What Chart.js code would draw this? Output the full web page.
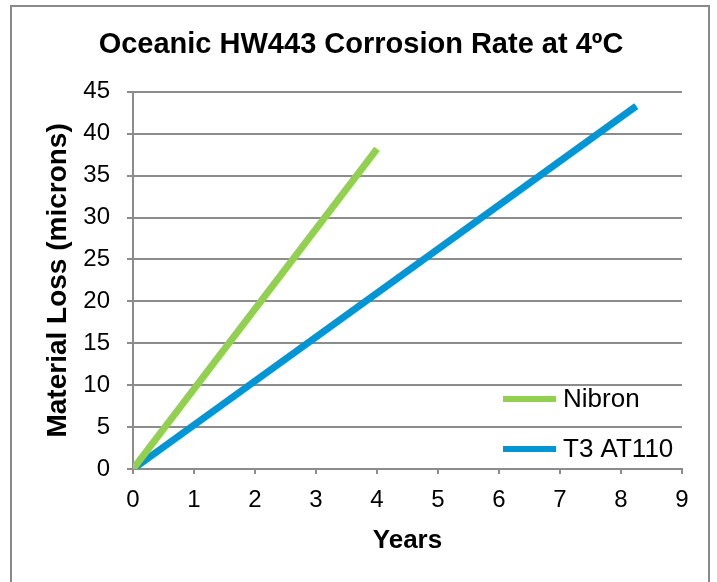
<!DOCTYPE html>
<html>
<head>
<meta charset="utf-8">
<script src="https://cdn.jsdelivr.net/npm/chart.js@4"></script>
<style>
  html, body { margin: 0; padding: 0; background: #fff; overflow: hidden; }
  #wrap { position: relative; width: 717px; height: 582px; }
  #frame {
    position: absolute; left: 10px; top: 5px; width: 700px; height: 600px;
    border: 2px solid #8a8a8a; box-sizing: border-box; pointer-events: none;
  }
  canvas { position: absolute; left: 0; top: 0; }
</style>
</head>
<body>
<div id="wrap">
  <canvas id="corrosionChart" width="717" height="582"></canvas>
  <div id="frame"></div>
</div>
<script>
// values
const chartTitle = 'Oceanic HW443 Corrosion Rate at 4ºC';
const xTitle = 'Years';
const yTitle = 'Material Loss (microns)';
const seriesNames = ['Nibron', 'T3 AT110'];
const nibronYears = [0, 4];
const nibronLoss = [0, 38.2];
const t3Years = [0, 8.25];
const t3Loss = [0, 43.3];
const xTicks = [0, 1, 2, 3, 4, 5, 6, 7, 8, 9];
const yTicks = [0, 5, 10, 15, 20, 25, 30, 35, 40, 45];

const colors = ['#92d050', '#0096d6'];
const FONT = '"Liberation Sans", Arial, sans-serif';

const toPoints = (xs, ys) => xs.map((x, i) => ({ x: x, y: ys[i] }));

// legend drawn inside the plot, lower right, like the Excel original
const insideLegend = {
    id: 'insideLegend',
    afterDatasetsDraw(chart) {
        const { ctx, chartArea } = chart;
        ctx.save();
        ctx.font = '26px ' + FONT;
        ctx.textBaseline = 'middle';
        ctx.fillStyle = '#000';
        chart.data.datasets.forEach((ds, i) => {
            const y = chartArea.bottom - 70 + i * 50;
            const x0 = chartArea.right - 179;
            ctx.strokeStyle = ds.borderColor;
            ctx.lineWidth = 6;
            ctx.beginPath();
            ctx.moveTo(x0, y);
            ctx.lineTo(x0 + 53, y);
            ctx.stroke();
            ctx.fillText(ds.label, x0 + 60, y + 1);
        });
        ctx.restore();
    }
};

const ctx = document.getElementById('corrosionChart');

new Chart(ctx, {
    type: 'line',
    data: {
        datasets: [
            {
                label: seriesNames[0],
                data: toPoints(nibronYears, nibronLoss),
                borderColor: colors[0],
                backgroundColor: colors[0],
                borderWidth: 7,
                pointRadius: 0,
            },
            {
                label: seriesNames[1],
                data: toPoints(t3Years, t3Loss),
                borderColor: colors[1],
                backgroundColor: colors[1],
                borderWidth: 7,
                pointRadius: 0,
            },
        ],
    },
    options: {
        responsive: false,
        animation: false,
        layout: { padding: { left: 40, right: 35, top: 0, bottom: 0 } },
        plugins: {
            legend: { display: false },
            tooltip: { enabled: false },
            title: {
                display: true,
                text: chartTitle,
                color: '#000',
                font: { family: FONT, size: 29, weight: 'bold' },
                padding: { top: 28, bottom: 29 },
            },
        },
        scales: {
            x: {
                type: 'linear',
                min: 0,
                max: 9,
                afterBuildTicks: (scale) => { scale.ticks = xTicks.map(v => ({ value: v })); },
                afterFit: (scale) => { scale.height = 113; },
                ticks: {
                    color: '#000',
                    font: { family: FONT, size: 24 },
                    padding: 12,
                },
                grid: {
                    drawOnChartArea: false,
                    drawTicks: true,
                    tickLength: 5,
                    color: '#8c8c8c',
                    lineWidth: 2,
                },
                border: { color: '#8c8c8c', width: 2 },
                title: {
                    display: true,
                    text: xTitle,
                    color: '#000',
                    font: { family: FONT, size: 26, weight: 'bold' },
                    padding: { top: 0, bottom: 26 },
                },
            },
            y: {
                type: 'linear',
                min: 0,
                max: 45,
                afterBuildTicks: (scale) => { scale.ticks = yTicks.map(v => ({ value: v })); },
                afterFit: (scale) => { scale.width = 93; },
                ticks: {
                    color: '#000',
                    font: { family: FONT, size: 24 },
                    padding: 17,
                },
                grid: {
                    drawTicks: true,
                    tickLength: 6,
                    color: '#8c8c8c',
                    lineWidth: 2,
                },
                border: { color: '#8c8c8c', width: 2 },
                title: {
                    display: true,
                    text: yTitle,
                    color: '#000',
                    font: { family: FONT, size: 28, weight: 'bold' },
                    padding: { top: 1, bottom: 0 },
                },
            },
        },
    },
    plugins: [insideLegend],
});
</script>
</body>
</html>
